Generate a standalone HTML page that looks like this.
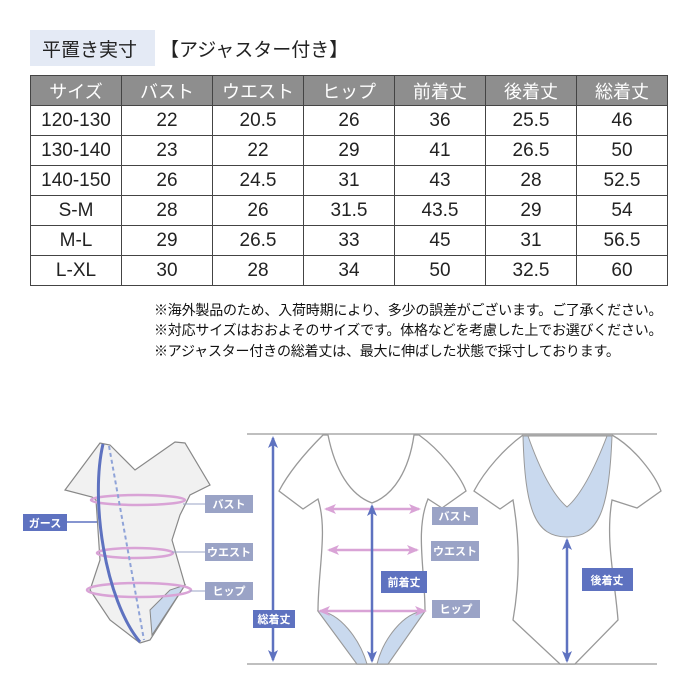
<!DOCTYPE html>
<html><head><meta charset="utf-8"><style>
body{margin:0;width:700px;height:700px;background:#fff;position:relative;overflow:hidden;font-family:"Liberation Sans","Noto Sans CJK JP",sans-serif;color:#222}
.a{position:absolute}
table{position:absolute;left:30px;top:75px;border-collapse:collapse;table-layout:fixed}
td{border:1.5px solid #444;text-align:center;height:29px;padding:0;font-size:19px;width:90px}
tr.h td{background:#8e8e8e;color:#fff;font-size:18px;height:29px}
.n{position:absolute;left:154px;font-size:14px;letter-spacing:-0.2px;white-space:nowrap;color:#111}
</style></head><body>
<div class="a" style="left:30px;top:30px;width:125px;height:36px;background:#e4eaf5"></div>
<div class="a" style="left:42px;top:35px;font-size:19px">平置き実寸</div>
<div class="a" style="left:160px;top:35px;font-size:19px">【アジャスター付き】</div>
<table>
<tr class="h"><td>サイズ</td><td>バスト</td><td>ウエスト</td><td>ヒップ</td><td>前着丈</td><td>後着丈</td><td style="width:88px">総着丈</td></tr>
<tr><td>120-130</td><td>22</td><td>20.5</td><td>26</td><td>36</td><td>25.5</td><td>46</td></tr>
<tr><td>130-140</td><td>23</td><td>22</td><td>29</td><td>41</td><td>26.5</td><td>50</td></tr>
<tr><td>140-150</td><td>26</td><td>24.5</td><td>31</td><td>43</td><td>28</td><td>52.5</td></tr>
<tr><td>S-M</td><td>28</td><td>26</td><td>31.5</td><td>43.5</td><td>29</td><td>54</td></tr>
<tr><td>M-L</td><td>29</td><td>26.5</td><td>33</td><td>45</td><td>31</td><td>56.5</td></tr>
<tr><td>L-XL</td><td>30</td><td>28</td><td>34</td><td>50</td><td>32.5</td><td>60</td></tr>
</table>
<div class="n" style="top:300px">※海外製品のため、入荷時期により、多少の誤差がございます。ご了承ください。</div>
<div class="n" style="top:320px">※対応サイズはおおよそのサイズです。体格などを考慮した上でお選びください。</div>
<div class="n" style="top:341px">※アジャスター付きの総着丈は、最大に伸ばした状態で採寸しております。</div>

<svg class="a" style="left:0;top:0" width="700" height="700" font-family="Liberation Sans, Noto Sans CJK JP, sans-serif">
<defs>
<marker id="ab" markerUnits="userSpaceOnUse" markerWidth="12" markerHeight="10" refX="10" refY="5" orient="auto-start-reverse"><path d="M0,0 L12,5 L0,10 L3,5 Z" fill="#5e72c0"/></marker>
<marker id="ap" markerUnits="userSpaceOnUse" markerWidth="12" markerHeight="10" refX="10" refY="5" orient="auto-start-reverse"><path d="M0,0 L12,5 L0,10 L3,5 Z" fill="#d9a3d6"/></marker>
</defs>
<path d="M100,443 L65,490 L92,497 L96,500 L100,560 L90,590 L110,620 L140,643 L150,640 L185,585 L172,540 L180,515 L190,495 L210,485 L185,443 L175,442 L135,470 L110,445 Z" fill="#f1f1f1" stroke="#888" stroke-width="1.2"/>
<path d="M152,635 L150,610 L170,590 L185,585 Z" fill="#c9d9ee" stroke="#888"/>
<ellipse cx="138" cy="500" rx="47" ry="5" fill="none" stroke="#d9a3d6" stroke-width="2.5"/>
<ellipse cx="135" cy="553" rx="38" ry="5" fill="none" stroke="#d9a3d6" stroke-width="2.5"/>
<ellipse cx="139" cy="590" rx="52" ry="7" fill="none" stroke="#d9a3d6" stroke-width="2.5"/>
<line x1="109" y1="446" x2="144" y2="640" stroke="#8fa3d8" stroke-width="2" stroke-dasharray="4,3"/>
<path d="M103,444 C90,500 105,600 140,642" fill="none" stroke="#5e72c0" stroke-width="3"/>
<line x1="67" y1="522" x2="97" y2="522" stroke="#5e72c0" stroke-width="1.5"/>
<rect x="23" y="514" width="44" height="17" fill="#5e72c0"/><text x="45" y="527" font-size="11" fill="#fff" text-anchor="middle" font-weight="bold">ガース</text>
<line x1="183" y1="504" x2="205" y2="504" stroke="#9aa3c6"/><line x1="172" y1="552" x2="205" y2="552" stroke="#9aa3c6"/><line x1="190" y1="591" x2="205" y2="591" stroke="#9aa3c6"/>
<g fill="#9aa3c6"><rect x="205" y="495" width="48" height="18"/><rect x="205" y="543" width="48" height="18"/><rect x="205" y="582" width="48" height="18"/></g>
<g font-size="11" fill="#fff" text-anchor="middle" font-weight="bold"><text x="229" y="508">バスト</text><text x="229" y="556">ウエスト</text><text x="229" y="595">ヒップ</text></g>
<line x1="247" y1="434" x2="657" y2="434" stroke="#aaa" stroke-width="1.5"/>
<line x1="247" y1="664" x2="657" y2="664" stroke="#aaa" stroke-width="1.5"/>
<line x1="273" y1="438" x2="273" y2="660" stroke="#5e72c0" stroke-width="2.5" marker-start="url(#ab)" marker-end="url(#ab)"/>
<rect x="253" y="610" width="42" height="18" fill="#5e72c0"/><text x="274" y="623" font-size="11" fill="#fff" text-anchor="middle" font-weight="bold">総着丈</text>
<path d="M328,435 C335,470 350,495 372,503 C394,495 409,470 414,435 L419,435 C440,450 460,475 466,491 L442,508 L428,499 C415,530 425,570 425,611 L388,664 L357,664 L318,611 C318,570 328,530 318,499 L303,509 L279,491 C290,470 310,448 323,435 Z" fill="#fff" stroke="#999" stroke-width="1.3"/>
<path d="M318,611 C340,612 360,640 367,664 L357,664 Z M425,611 C403,612 383,640 377,664 L388,664 Z" fill="#c9d9ee" stroke="#999"/>
<line x1="326" y1="509" x2="419" y2="509" stroke="#d9a3d6" stroke-width="2.5" marker-start="url(#ap)" marker-end="url(#ap)"/>
<line x1="329" y1="550" x2="417" y2="550" stroke="#d9a3d6" stroke-width="2.5" marker-start="url(#ap)" marker-end="url(#ap)"/>
<line x1="320" y1="611" x2="425" y2="611" stroke="#d9a3d6" stroke-width="2.5" marker-start="url(#ap)" marker-end="url(#ap)"/>
<line x1="372" y1="506" x2="372" y2="661" stroke="#5e72c0" stroke-width="2.5" marker-start="url(#ab)" marker-end="url(#ab)"/>
<rect x="381" y="571" width="46" height="22" fill="#5e72c0"/><text x="404" y="586" font-size="11" fill="#fff" text-anchor="middle" font-weight="bold">前着丈</text>
<g fill="#9aa3c6"><rect x="432" y="507" width="46" height="18"/><rect x="431" y="541" width="48" height="20"/><rect x="432" y="600" width="48" height="18"/></g>
<g font-size="11" fill="#fff" text-anchor="middle" font-weight="bold"><text x="455" y="520">バスト</text><text x="455" y="555">ウエスト</text><text x="456" y="613">ヒップ</text></g>
<path d="M523,435 L612,435 C635,448 655,475 661,491 L637,508 L612,500 C605,540 615,580 618,620 L575,664 L560,664 L513,620 C520,580 520,540 513,500 L500,509 L474,491 C485,470 505,448 523,435 Z" fill="#fff" stroke="#999" stroke-width="1.3"/>
<path d="M523,436 C525,510 535,537 567,537 C599,537 609,510 612,436 Z" fill="#c9d9ee" stroke="#999"/>
<path d="M528,436 C540,470 553,495 567,507 C581,495 594,470 607,436 Z" fill="#fff" stroke="#999"/>
<line x1="523" y1="435" x2="612" y2="435" stroke="#aaa" stroke-width="1.5"/>
<line x1="567" y1="540" x2="567" y2="661" stroke="#5e72c0" stroke-width="2.5" marker-start="url(#ab)" marker-end="url(#ab)"/>
<rect x="582" y="568" width="51" height="23" fill="#5e72c0"/><text x="607" y="584" font-size="11" fill="#fff" text-anchor="middle" font-weight="bold">後着丈</text>
</svg>
</body></html>
